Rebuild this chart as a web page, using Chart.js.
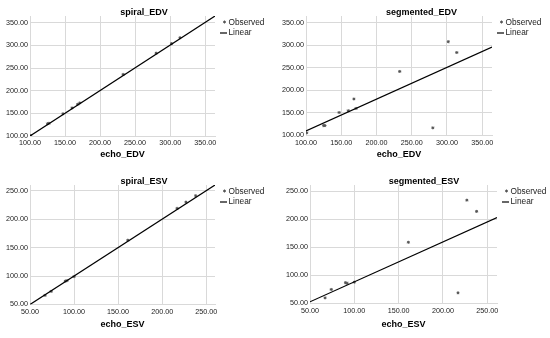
<!DOCTYPE html>
<html>
<head>
<meta charset="utf-8">
<script src="https://cdn.jsdelivr.net/npm/chart.js@4"></script>
<style>
  html, body { margin: 0; padding: 0; background: #fff; }
  body { width: 550px; height: 338px; position: relative; overflow: hidden; }
  canvas { position: absolute; }
</style>
</head>
<body>
<canvas id="c1" width="288" height="169" style="left:0px;top:0px"></canvas>
<canvas id="c2" width="293" height="169" style="left:275px;top:0px"></canvas>
<canvas id="c3" width="288" height="169" style="left:0px;top:169px"></canvas>
<canvas id="c4" width="298" height="169" style="left:275px;top:169px"></canvas>
<script>
// EDV
const edvEcho = [101, 125, 127, 147, 160, 168, 171, 233, 280, 302, 314];
const edvSpiral = [101, 127, 128, 149, 162, 170, 173, 236, 283, 304, 317];
const edvSegmented = [106, 122, 122, 151, 155, 181, 160, 242, 117, 308, 284];
const edvFitX = [100, 364];
const edvSpiralFitY = [100, 365];
const edvSegmentedFitY = [110, 296];
const edvTicks = [100, 150, 200, 250, 300, 350];

// ESV
const esvEcho = [67, 74, 90, 92, 100, 161, 217, 227, 238];
const esvSpiral = [66, 73, 91, 92, 99, 163, 219, 230, 241];
const esvSegmented = [60, 75, 87, 86, 88, 159, 69, 234, 214];
const esvFitX = [50, 261];
const esvSpiralFitY = [50, 261];
const esvSegmentedFitY = [53, 203];
const esvTicks = [50, 100, 150, 200, 250];

const FONT = "'Liberation Sans', Arial, sans-serif";
const gridColor = '#d9d9d9';
const markColor = '#555';

const toPoints = (xs, ys) => xs.map((x, i) => ({ x: x, y: ys[i] }));

// little legend drawn beside the plot, like the SPSS one
const sideLegend = {
  id: 'sideLegend',
  afterDraw(chart) {
    const ctx = chart.ctx;
    const a = chart.chartArea;
    ctx.save();
    ctx.strokeStyle = markColor;
    ctx.fillStyle = markColor;
    Chart.helpers.drawPoint(ctx, { pointStyle: 'star', radius: 1.5, borderWidth: 1 }, a.right + 9.5, a.top + 6);
    ctx.strokeStyle = '#000';
    ctx.lineWidth = 1.2;
    ctx.beginPath();
    ctx.moveTo(a.right + 5, a.top + 17);
    ctx.lineTo(a.right + 12, a.top + 17);
    ctx.stroke();
    ctx.fillStyle = '#222';
    ctx.font = '8.3px ' + FONT;
    ctx.textBaseline = 'middle';
    ctx.fillText('Observed', a.right + 13.5, a.top + 7);
    ctx.fillText('Linear', a.right + 13.5, a.top + 17);
    ctx.restore();
  }
};

function makePanel(id, p) {
  const canvas = document.getElementById(id);
  const W = canvas.width, H = canvas.height;
  const axisTicks = (ticks) => (scale) => { scale.ticks = ticks.map(v => ({ value: v })); };

  new Chart(canvas.getContext('2d'), {
    type: 'scatter',
    data: {
      datasets: [
        {
          label: 'Observed',
          data: toPoints(p.xs, p.ys),
          pointStyle: 'star',
          pointRadius: 1.5,
          borderColor: markColor,
          backgroundColor: markColor,
          borderWidth: 1,
          order: 1,
        },
        {
          label: 'Linear',
          data: toPoints(p.fitX, p.fitY),
          showLine: true,
          pointRadius: 0,
          borderColor: '#000',
          borderWidth: 1.2,
          order: 0,
        },
      ],
    },
    options: {
      responsive: false,
      animation: false,
      layout: { padding: 0 },
      plugins: {
        legend: { display: false },
        tooltip: { enabled: false },
        title: {
          display: true,
          text: p.title,
          color: '#000',
          font: { family: FONT, size: 9, weight: 'bold', lineHeight: 0.8 },
          padding: { top: 8.5, bottom: p.top - 8.5 - 7.2 },
        },
      },
      scales: {
        x: {
          min: p.min, max: p.xmax,
          afterBuildTicks: axisTicks(p.ticks),
          afterFit: (scale) => { scale.height = H - p.bottom; },
          grid: { color: gridColor, drawTicks: false },
          border: { color: gridColor },
          ticks: { padding: 3, color: '#222', font: { family: FONT, size: 7.2 }, maxRotation: 0, callback: v => v.toFixed(2) },
          title: { display: true, text: p.xTitle, color: '#000', font: { family: FONT, size: 9, weight: 'bold' }, padding: { top: 0, bottom: p.xTitleBottom } },
        },
        y: {
          min: p.min, max: p.ymax,
          afterBuildTicks: axisTicks(p.ticks),
          afterFit: (scale) => { scale.width = p.yw; },
          grid: { color: gridColor, drawTicks: false },
          border: { color: gridColor },
          ticks: { padding: 2, color: '#222', font: { family: FONT, size: 7.2 }, callback: v => v.toFixed(2) },
        },
        // empty right-hand strip that leaves room for the legend
        legendSpace: {
          position: 'right',
          grid: { display: false },
          border: { display: false },
          ticks: { display: false },
          afterFit: (scale) => { scale.width = W - p.right; },
        },
      },
    },
    plugins: [sideLegend],
  });
}

makePanel('c1', { title: 'spiral_EDV', xTitle: 'echo_EDV', xs: edvEcho, ys: edvSpiral, fitX: edvFitX, fitY: edvSpiralFitY,
  ticks: edvTicks, min: 100, xmax: 364, ymax: 365, yw: 30, right: 215, top: 16, bottom: 136, xTitleBottom: 8.6 });
makePanel('c2', { title: 'segmented_EDV', xTitle: 'echo_EDV', xs: edvEcho, ys: edvSegmented, fitX: edvFitX, fitY: edvSegmentedFitY,
  ticks: edvTicks, min: 100, xmax: 364, ymax: 365, yw: 31, right: 217, top: 16, bottom: 135.5, xTitleBottom: 8.6 });
makePanel('c3', { title: 'spiral_ESV', xTitle: 'echo_ESV', xs: esvEcho, ys: esvSpiral, fitX: esvFitX, fitY: esvSpiralFitY,
  ticks: esvTicks, min: 50, xmax: 260, ymax: 260, yw: 30, right: 215, top: 16, bottom: 135.5, xTitleBottom: 7.6 });
makePanel('c4', { title: 'segmented_ESV', xTitle: 'echo_ESV', xs: esvEcho, ys: esvSegmented, fitX: esvFitX, fitY: esvSegmentedFitY,
  ticks: esvTicks, min: 50, xmax: 261, ymax: 261, yw: 35, right: 222, top: 16, bottom: 134.5, xTitleBottom: 7.6 });
</script>
</body>
</html>
